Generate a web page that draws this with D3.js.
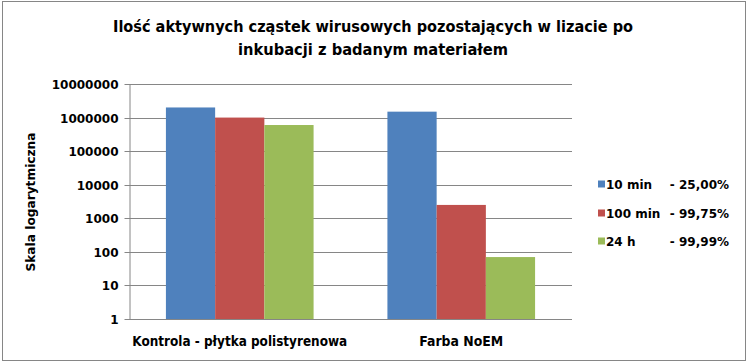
<!DOCTYPE html>
<html><head><meta charset="utf-8">
<script src="https://cdn.jsdelivr.net/npm/d3@7"></script>
<style>html,body{margin:0;padding:0;background:#fff;}svg{display:block;}</style>
</head><body>
<script>
const titleLines = ["Ilość aktywnych cząstek wirusowych pozostających w lizacie po", "inkubacji z badanym materiałem"];
const categories = ["Kontrola - płytka polistyrenowa", "Farba NoEM"];
const seriesNames = ["10 min", "100 min", "24 h"];
const seriesPct = ["- 25,00%", "- 99,75%", "- 99,99%"];
const values10min = [2000000, 1500000];
const values100min = [1000000, 2500];
const values24h = [600000, 70];
const yTicks = [1, 10, 100, 1000, 10000, 100000, 1000000, 10000000];
const yTitle = "Skala logarytmiczna";
const colors = ["#4F81BD", "#C0504D", "#9BBB59"];

const W = 748, H = 363;
const svg = d3.select("body").append("svg").attr("width", W).attr("height", H);
const FONT = "'DejaVu Sans', Verdana, sans-serif";

svg.append("rect").attr("x", 2.5).attr("y", 1.5).attr("width", 743).attr("height", 359)
  .attr("fill", "#fff").attr("stroke", "#868686").attr("stroke-width", 1);

// title
const titleWidths = [520, 270];
titleLines.forEach((t, i) => {
  svg.append("text").attr("x", 373).attr("y", 32 + i * 23)
    .attr("text-anchor", "middle").attr("font-family", FONT)
    .attr("font-weight", "bold").attr("font-size", 15)
    .attr("textLength", titleWidths[i]).attr("lengthAdjust", "spacingAndGlyphs")
    .text(t);
});

const plotL = 129, plotR = 572, plotT = 84, plotB = 319;
const y = d3.scaleLog().domain([1, 10000000]).range([plotB, plotT]);
const x0 = d3.scaleBand().domain(categories).range([plotL, plotR]).padding(0);
const x1 = d3.scaleBand().domain(seriesNames).range([0, x0.bandwidth()]).paddingInner(0).paddingOuter(0.75);

// gridlines
svg.append("g").selectAll("line").data(yTicks).join("line")
  .attr("x1", plotL).attr("x2", plotR)
  .attr("y1", d => Math.round(y(d)) + 0.5).attr("y2", d => Math.round(y(d)) + 0.5)
  .attr("stroke", "#868686").attr("stroke-width", 1);

// y axis
const yAxis = d3.axisLeft(y).tickValues(yTicks).tickFormat(d3.format("d")).tickSize(5).tickSizeOuter(0);
const gy = svg.append("g").attr("transform", `translate(${plotL + 0.5},0.5)`).call(yAxis);
gy.select(".domain").attr("stroke", "#868686");
gy.selectAll(".tick line").attr("stroke", "#868686");
gy.selectAll(".tick text").attr("font-family", FONT).attr("font-weight", "bold")
  .attr("font-size", 12).attr("fill", "#000").attr("x", -11).attr("dy", "0.36em");
gy.selectAll(".tick").attr("transform", d => `translate(0,${Math.round(y(d))})`);

// bars
const seriesValues = [values10min, values100min, values24h];
const barData = [];
categories.forEach((c, ci) => seriesNames.forEach((s, si) => barData.push({c, s, v: seriesValues[si][ci], si})));
svg.append("g").selectAll("rect").data(barData).join("rect")
  .attr("x", d => x0(d.c) + x1(d.s))
  .attr("width", x1.bandwidth())
  .attr("y", d => y(d.v))
  .attr("height", d => y(1) - y(d.v))
  .attr("fill", d => colors[d.si]);

// x axis line
svg.append("line").attr("x1", plotL).attr("x2", plotR).attr("y1", plotB + 0.5).attr("y2", plotB + 0.5)
  .attr("stroke", "#868686");

// x labels
const xLabelWidths = [215, 84];
categories.forEach((c, i) => {
  svg.append("text").attr("x", x0(c) + x0.bandwidth() / 2).attr("y", 346)
    .attr("text-anchor", "middle").attr("font-family", FONT).attr("font-weight", "bold")
    .attr("font-size", 14).attr("textLength", xLabelWidths[i]).attr("lengthAdjust", "spacingAndGlyphs")
    .text(c);
});

// y title
svg.append("text").attr("transform", "translate(35,202) rotate(-90)")
  .attr("text-anchor", "middle").attr("font-family", FONT).attr("font-weight", "bold")
  .attr("font-size", 12).attr("textLength", 139).attr("lengthAdjust", "spacingAndGlyphs")
  .text(yTitle);

// legend
const legY = [184, 213, 241];
seriesNames.forEach((s, i) => {
  svg.append("rect").attr("x", 598).attr("y", legY[i] - 3.5).attr("width", 7).attr("height", 7).attr("fill", colors[i]);
  svg.append("text").attr("x", 606).attr("y", legY[i] + 4.5).attr("font-family", FONT)
    .attr("font-weight", "bold").attr("font-size", 12).text(s);
  svg.append("text").attr("x", 729).attr("y", legY[i] + 4.5).attr("text-anchor", "end").attr("font-family", FONT)
    .attr("font-weight", "bold").attr("font-size", 12).text(seriesPct[i]);
});
</script>
</body></html>
